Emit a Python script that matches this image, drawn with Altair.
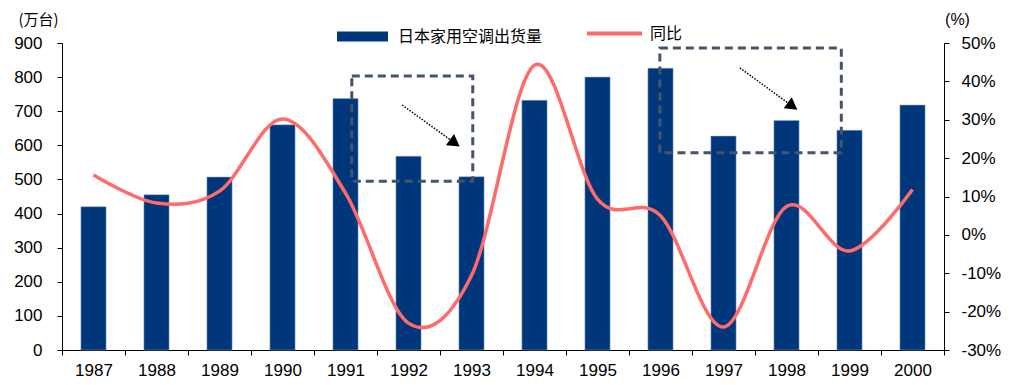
import altair as alt
import pandas as pd

# ---- data ----
years = list(range(1987, 2001))
shipments = [420, 455, 507, 660, 737, 568, 508, 732, 800, 826, 627, 673, 644, 718]
yoy = [15.6, 8.3, 11.4, 30.2, 10.9, -23.0, -10.6, 44.2, 9.3, 5.0, -24.0, 7.4, -4.2, 11.8]

bar_name = "日本家用空调出货量"
line_name = "同比"

# annotation boxes (x in years, y in 万台 on left axis)
box_x1 = [1991.10, 1995.99]
box_x2 = [1993.02, 1998.87]
box_y1 = [803, 885]
box_y2 = [495, 578]

# annotation arrows (start -> head), same units
arrow_x1 = [1991.90, 1997.26]
arrow_y1 = [718, 827]
arrow_x2 = [1992.71, 1998.07]
arrow_y2 = [610, 718]

df = pd.DataFrame({"year": years, "ship": shipments, "yoy": yoy})
df["x1"] = df["year"] - 0.2
df["x2"] = df["year"] + 0.2
df["s_bar"] = bar_name
df["s_line"] = line_name

boxes = pd.DataFrame({"x1": box_x1, "x2": box_x2, "y1": box_y1, "y2": box_y2})
arrows = pd.DataFrame({"x1": arrow_x1, "y1": arrow_y1, "x2": arrow_x2, "y2": arrow_y2})

X_DOMAIN = [years[0] - 0.5, years[-1] + 0.5]
tick_vals = [y - 0.5 for y in years] + [years[-1] + 0.5]

xscale = alt.Scale(domain=X_DOMAIN, nice=False, zero=False)
yleft = alt.Scale(domain=[0, 900], nice=False, zero=False)
yright = alt.Scale(domain=[-30, 50], nice=False, zero=False)

LABEL_FONT = "Liberation Sans"
CJK = "Noto Sans CJK SC"

x_axis = alt.Axis(
    values=tick_vals,
    labelExpr="datum.value > 2000 ? '' : format(datum.value + 0.5, 'd')",
    labelOffset=31.5,
    labelFont=LABEL_FONT, labelFontSize=17, labelColor="#000",
    labelPadding=7, tickSize=5, tickColor="#000", domainColor="#000",
    labelFlush=False, labelOverlap=False, labelBound=False,
    title=None, grid=False,
)

bars = alt.Chart(df).mark_bar(stroke="#8EA9DB", strokeWidth=0.5).encode(
    x=alt.X("x1:Q", scale=xscale, axis=x_axis),
    x2="x2:Q",
    y=alt.Y("ship:Q", scale=yleft, axis=alt.Axis(
        values=list(range(0, 901, 100)), orient="left",
        labelFont=LABEL_FONT, labelFontSize=17, labelColor="#000",
        labelPadding=15, tickSize=5, tickColor="#000", domainColor="#000",
        domain=True, ticks=True, grid=False,
        title="(万台)", titleAngle=0, titleX=-24, titleY=-24,
        titleAlign="center", titleBaseline="middle",
        titleFont=CJK, titleFontSize=15, titleFontWeight="normal", titleColor="#000",
    )),
    y2=alt.datum(0),
    fill=alt.Fill("s_bar:N", scale=alt.Scale(domain=[bar_name], range=["#00377A"]),
                  legend=alt.Legend(
                      title=None, orient="none", legendX=275, legendY=-32,
                      symbolType="M-1,-0.2L1,-0.2L1,0.2L-1,0.2Z", symbolSize=2601,
                      symbolStrokeWidth=0, labelFont=CJK, labelFontSize=16,
                      labelColor="#000", labelOffset=10, padding=0,
                  )),
)

line = alt.Chart(df).mark_line(interpolate="cardinal", strokeWidth=3.5).encode(
    x=alt.X("year:Q", scale=xscale, axis=x_axis),
    y=alt.Y("yoy:Q", scale=yright, axis=alt.Axis(
        values=list(range(-30, 51, 10)), orient="right",
        labelExpr="datum.value + '%'",
        labelFont=LABEL_FONT, labelFontSize=17, labelColor="#000",
        labelPadding=12, tickSize=5, tickColor="#000", domainColor="#000",
        grid=False,
        title="(%)", titleAngle=0, titleX=13, titleY=-24,
        titleAlign="center", titleBaseline="middle",
        titleFont=LABEL_FONT, titleFontSize=16, titleFontWeight="normal", titleColor="#000",
    )),
    stroke=alt.Stroke("s_line:N", scale=alt.Scale(domain=[line_name], range=["#FF6B6B"]),
                      legend=alt.Legend(
                          title=None, orient="none", legendX=523, legendY=-39,
                          symbolType="stroke", symbolSize=3025, symbolStrokeWidth=4,
                          labelFont=CJK, labelFontSize=16, labelColor="#000",
                          labelOffset=6, padding=0,
                      )),
)

box_layer = alt.Chart(boxes).mark_rect(
    fill=None, fillOpacity=0, stroke="#44546A", strokeWidth=3, strokeDash=[8, 5]
).encode(
    x=alt.X("x1:Q", scale=xscale, axis=x_axis),
    x2="x2:Q",
    y=alt.Y("y1:Q", scale=yleft, axis=None),
    y2="y2:Q",
)

arrow_lines = alt.Chart(arrows).mark_rule(
    color="#000", strokeWidth=1.5, strokeDash=[1.5, 1.5]
).encode(
    x=alt.X("x1:Q", scale=xscale, axis=x_axis),
    x2="x2:Q",
    y=alt.Y("y1:Q", scale=yleft, axis=None),
    y2="y2:Q",
)

arrow_heads = alt.Chart(arrows).mark_point(
    shape="triangle", filled=True, color="#000", size=190, angle=126, opacity=1
).encode(
    x=alt.X("x2:Q", scale=xscale, axis=x_axis),
    y=alt.Y("y2:Q", scale=yleft, axis=None),
)

chart = alt.layer(bars, line, box_layer, arrow_lines, arrow_heads).resolve_scale(
    y="independent"
).properties(
    width=882, height=307,
    autosize="none",
    padding={"left": 62, "top": 43, "right": 69, "bottom": 35},
    background="white",
).configure_view(stroke=None)

chart.save("out.html", embed_options={"renderer": "svg", "actions": False})
